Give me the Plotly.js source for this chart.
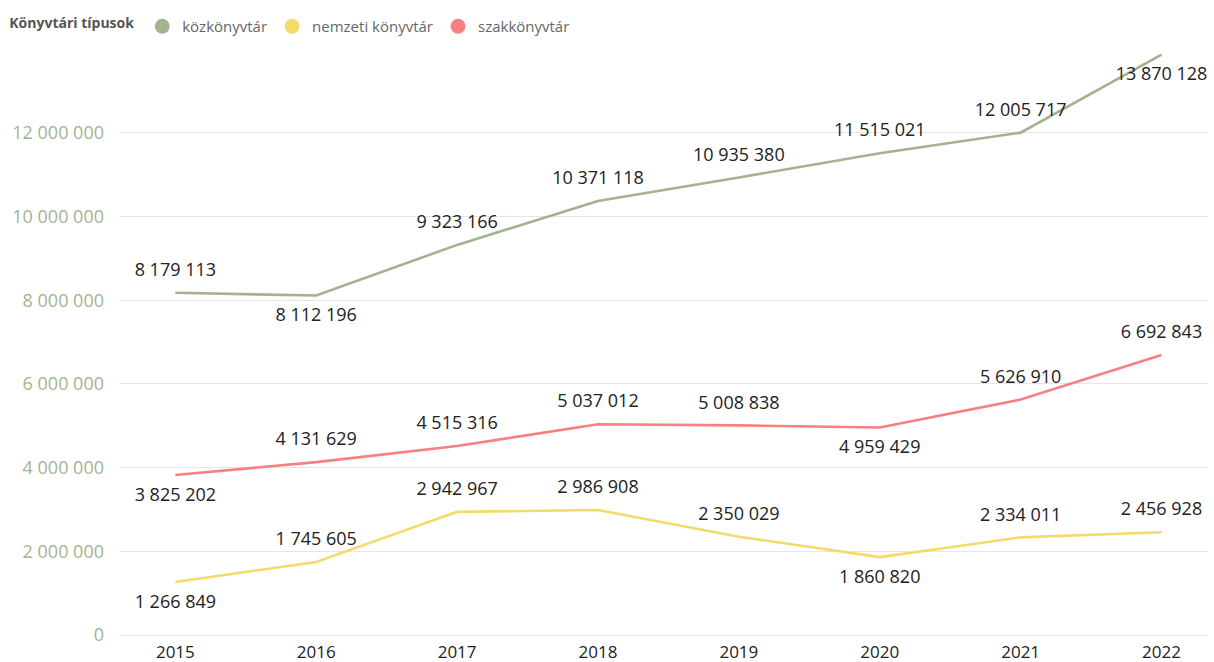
<!DOCTYPE html>
<html><head><meta charset="utf-8">
<script src="https://cdn.plot.ly/plotly-3.0.1.min.js"></script>
<style>html,body{margin:0;padding:0;background:#fff}#c{width:1214px;height:662px}</style>
</head><body><div id="c"></div>
<script>
const years = ['2015','2016','2017','2018','2019','2020','2021','2022'];
const seriesNames = ['közkönyvtár','nemzeti könyvtár','szakkönyvtár'];
const kozkonyvtar = [8179113, 8112196, 9323166, 10371118, 10935380, 11515021, 12005717, 13870128];
const nemzeti = [1266849, 1745605, 2942967, 2986908, 2350029, 1860820, 2334011, 2456928];
const szak = [3825202, 4131629, 4515316, 5037012, 5008838, 4959429, 5626910, 6692843];
const kozPos = ['top center','bottom center','top center','top center','top center','top center','top center','bottom center'];
const nemPos = ['bottom center','top center','top center','top center','top center','bottom center','top center','top center'];
const szakPos = ['bottom center','top center','top center','top center','top center','bottom center','top center','top center'];
const colors = ['#a4b38f','#f4da6a','#f88080'];
const yTicks = [0,2000000,4000000,6000000,8000000,10000000,12000000];

const fmt = v => String(v).replace(/\B(?=(\d{3})+(?!\d))/g, ' ');
const font = 'Segoe UI, "Open Sans", sans-serif';

function lineTrace(vals, pos, color, name){
  return {x: years, y: vals, type:'scatter', mode:'lines+markers+text', name: name, showlegend:false,
    line:{color:color, width:2.6}, marker:{size:18, opacity:0, color:color},
    text: vals.map(fmt), textposition: pos,
    textfont:{family:font, size:18, color:'#222'}, hoverinfo:'skip', cliponaxis:false};
}
function legendTrace(color, name){
  return {x:[null], y:[null], type:'scatter', mode:'markers', name:name,
    marker:{color:color, size:15, symbol:'circle'}, showlegend:true};
}
const data = [
  lineTrace(kozkonyvtar, kozPos, colors[0], seriesNames[0]),
  lineTrace(nemzeti, nemPos, colors[1], seriesNames[1]),
  lineTrace(szak, szakPos, colors[2], seriesNames[2]),
  legendTrace(colors[0], seriesNames[0]),
  legendTrace(colors[1], seriesNames[1]),
  legendTrace(colors[2], seriesNames[2])
];
const layout = {
  width:1214, height:662,
  margin:{l:119, r:6, t:40, b:27},
  paper_bgcolor:'#fff', plot_bgcolor:'#fff',
  font:{family:font},
  showlegend:true,
  legend:{orientation:'h', x:0.006, xref:'container', y:0.985, yref:'container', yanchor:'top', xanchor:'left',
    title:{text:'<b>Könyvtári típusok</b>', font:{family:font, size:14, color:'#555'}, side:'left'},
    font:{family:font, size:15, color:'#666'}, itemwidth:30, tracegroupgap:0, itemclick:false},
  xaxis:{type:'category', range:[-0.4, 7.33], showgrid:false, zeroline:false, showline:false,
    ticks:'', ticklabelstandoff:5, tickfont:{family:font, size:17, color:'#222'}, fixedrange:true},
  yaxis:{range:[0, 14150000], tickvals:yTicks, ticktext:yTicks.map(fmt), showgrid:true,
    gridcolor:'#e6e6e6', gridwidth:1, zeroline:true, zerolinecolor:'#e6e6e6', showline:false,
    ticks:'', ticklabelstandoff:14, tickfont:{family:font, size:18, color:'#a4b38f'}, fixedrange:true}
};
Plotly.newPlot('c', data, layout, {displayModeBar:false, staticPlot:true});
</script></body></html>
